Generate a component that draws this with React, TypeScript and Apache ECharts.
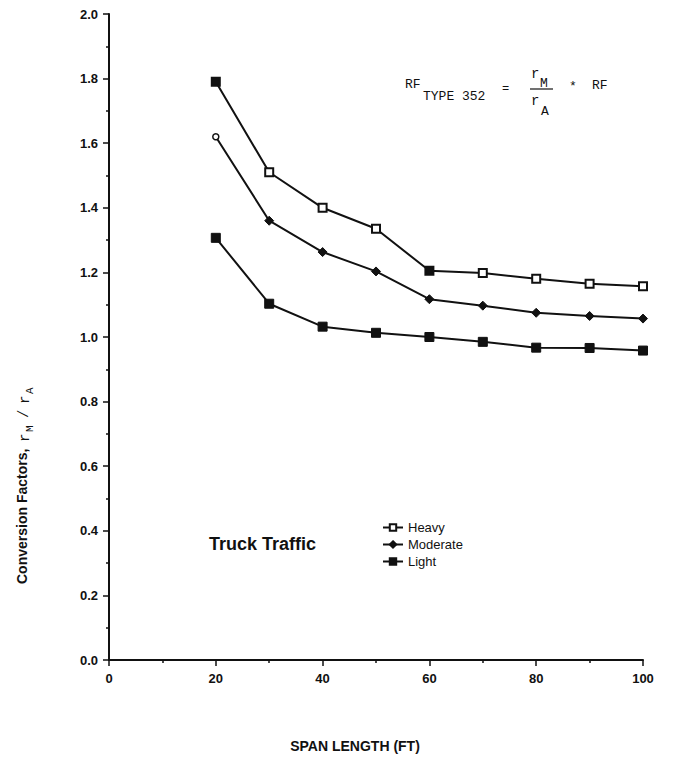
import React, { useEffect, useRef } from "react";
import * as echarts from "echarts";

// Span lengths (ft) and conversion factors rM/rA per truck traffic level
const spanLengths = [20, 30, 40, 50, 60, 70, 80, 90, 100];
const heavy = [1.79, 1.51, 1.40, 1.335, 1.205, 1.198, 1.18, 1.165, 1.157];
const moderate = [1.62, 1.36, 1.263, 1.203, 1.117, 1.097, 1.075, 1.065, 1.057];
const light = [1.307, 1.103, 1.032, 1.013, 1.0, 0.985, 0.967, 0.966, 0.958];

const xTicks = { min: 0, max: 100, interval: 20 };
const yTicks = { min: 0, max: 2, interval: 0.2 };

const INK = "#111";
const SANS = "'Liberation Sans', Arial, Helvetica, sans-serif";
const MONO = "'Liberation Mono', 'DejaVu Sans Mono', monospace";

const monoText = (x: number, y: number, text: string, size: number) => ({
  type: "text",
  x,
  y,
  style: { text, font: `${size}px ${MONO}`, fill: INK, textVerticalAlign: "middle" },
});

export default function App() {
  const ref = useRef<HTMLDivElement>(null);

  useEffect(() => {
    if (!ref.current) return;
    const chart = echarts.init(ref.current, undefined, { renderer: "svg" });

    const pairs = (vals: number[]) => spanLengths.map((x, i) => [x, vals[i]]);

    const heavyData = pairs(heavy).map((p, i) =>
      i === 0 || i === 4
        ? { value: p, itemStyle: { color: INK } }
        : { value: p }
    );
    const moderateData = pairs(moderate).map((p, i) =>
      i === 0
        ? { value: p, symbol: "circle", symbolSize: 6, itemStyle: { color: "#fff", borderColor: INK, borderWidth: 1.5 } }
        : { value: p }
    );

    const lineStyle = { color: INK, width: 2 };

    chart.setOption({
      animation: false,
      backgroundColor: "#fff",
      grid: { left: 109, right: 30, top: 14, bottom: 100, containLabel: false },
      xAxis: {
        type: "value",
        min: xTicks.min,
        max: xTicks.max,
        interval: xTicks.interval,
        axisLine: { show: true, lineStyle: { color: INK, width: 2 } },
        axisTick: { show: true, length: 6, lineStyle: { color: INK, width: 1.5 } },
        minorTick: { show: true, splitNumber: 2, length: 3, lineStyle: { color: INK, width: 1.5 } },
        splitLine: { show: false },
        axisLabel: {
          color: INK,
          fontFamily: SANS,
          fontWeight: "bold",
          fontSize: 13,
          margin: 12,
        },
      },
      yAxis: {
        type: "value",
        min: yTicks.min,
        max: yTicks.max,
        interval: yTicks.interval,
        axisLine: { show: true, lineStyle: { color: INK, width: 2 } },
        axisTick: { show: true, length: 6, lineStyle: { color: INK, width: 1.5 } },
        minorTick: { show: true, splitNumber: 2, length: 3, lineStyle: { color: INK, width: 1.5 } },
        splitLine: { show: false },
        axisLabel: {
          color: INK,
          fontFamily: SANS,
          fontWeight: "bold",
          fontSize: 13,
          margin: 11,
          formatter: (v: number) => v.toFixed(1),
        },
      },
      legend: {
        orient: "vertical",
        left: 377,
        top: 516,
        itemWidth: 20,
        itemHeight: 8,
        itemGap: 4,
        textStyle: { color: INK, fontFamily: SANS, fontSize: 13 },
        data: ["Heavy", "Moderate", "Light"],
      },
      series: [
        {
          name: "Heavy",
          type: "line",
          data: heavyData,
          symbol: "rect",
          symbolSize: 8,
          lineStyle,
          itemStyle: { color: "#fff", borderColor: INK, borderWidth: 2 },
        },
        {
          name: "Moderate",
          type: "line",
          data: moderateData,
          symbol: "diamond",
          symbolSize: 9,
          lineStyle,
          itemStyle: { color: INK, borderColor: INK, borderWidth: 1 },
        },
        {
          name: "Light",
          type: "line",
          data: pairs(light),
          symbol: "rect",
          symbolSize: 9,
          lineStyle,
          itemStyle: { color: INK, borderColor: INK, borderWidth: 1 },
        },
      ],
      graphic: [
        // y-axis title, read bottom to top
        {
          type: "group",
          x: 22,
          y: 584,
          rotation: Math.PI / 2,
          children: [
            {
              type: "text",
              x: 0,
              y: 0,
              style: {
                text: "Conversion Factors,",
                font: `bold 14px ${SANS}`,
                fill: INK,
                textVerticalAlign: "middle",
              },
            },
            monoText(142, 3, "r", 14),
            monoText(152, 8, "M", 11),
            monoText(166, 2, "/", 14),
            monoText(180, 3, "r", 14),
            monoText(190, 8, "A", 11),
          ],
        },
        // x-axis title
        {
          type: "text",
          x: 355,
          y: 746,
          style: {
            text: "SPAN LENGTH (FT)",
            font: `bold 14px ${SANS}`,
            fill: INK,
            textAlign: "center",
            textVerticalAlign: "middle",
          },
        },
        // panel label
        {
          type: "text",
          x: 209,
          y: 544,
          style: {
            text: "Truck Traffic",
            font: `bold 18px ${SANS}`,
            fill: INK,
            textVerticalAlign: "middle",
          },
        },
        // rating factor formula
        monoText(405, 84, "RF", 13),
        monoText(423, 96, "TYPE 352", 13),
        monoText(502, 89, "=", 12),
        monoText(531, 74, "r", 14),
        monoText(540, 83, "M", 13),
        { type: "line", shape: { x1: 530, y1: 89, x2: 553, y2: 89 }, style: { stroke: INK, lineWidth: 1.2 } },
        monoText(531, 101, "r", 14),
        monoText(541, 111, "A", 13),
        monoText(569, 86, "*", 13),
        monoText(592, 85, "RF", 13),
      ],
    });

    return () => chart.dispose();
  }, []);

  return (
    <div
      ref={ref}
      style={{ position: "absolute", left: 0, top: 0, width: 673, height: 760 }}
    />
  );
}
